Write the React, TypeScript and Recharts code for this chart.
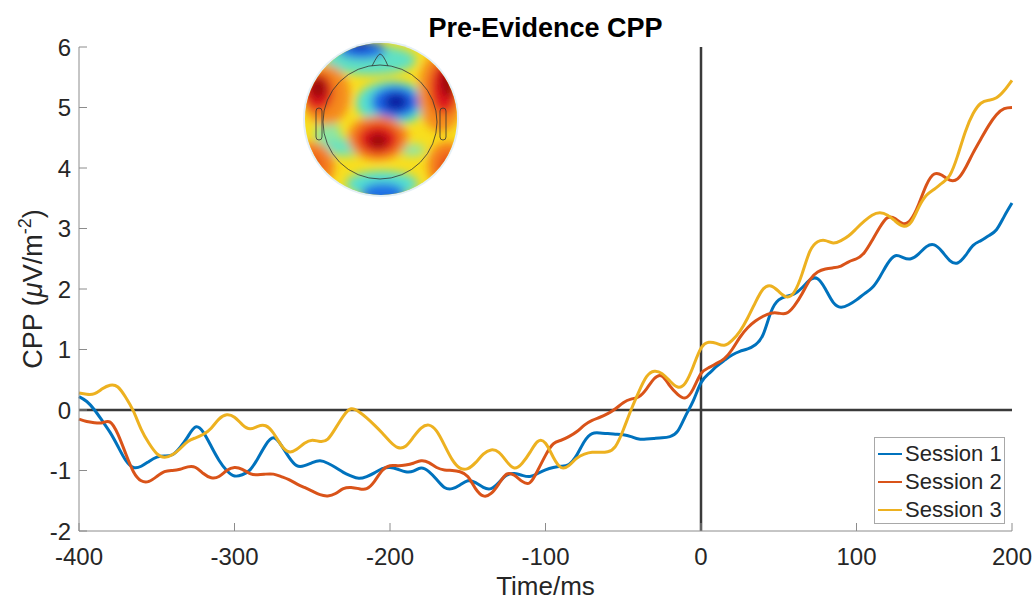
import React from "react";
import {
  LineChart,
  Line,
  XAxis,
  YAxis,
  ReferenceLine,
  Legend,
  Label,
} from "recharts";

// time axis in ms, 5 ms steps
const TIME = Array.from({ length: 121 }, (_, i) => -400 + i * 5);

const SESSION_1 = [
  0.22, 0.14, 0.0, -0.18, -0.37, -0.6, -0.83, -0.95, -0.93, -0.85,
  -0.78, -0.76, -0.74, -0.62, -0.44, -0.28, -0.37, -0.6, -0.83, -1.0,
  -1.09, -1.07, -0.99, -0.8, -0.58, -0.46, -0.58, -0.78, -0.92, -0.92,
  -0.87, -0.84, -0.88, -0.95, -1.03, -1.09, -1.13, -1.1, -1.04, -0.97,
  -0.95, -0.98, -1.02, -1.01, -0.96, -1.02, -1.15, -1.28, -1.3, -1.24,
  -1.17, -1.2, -1.28, -1.3, -1.2, -1.08, -1.05, -1.08, -1.1, -1.05,
  -0.99, -0.95, -0.93, -0.9, -0.75, -0.52, -0.39, -0.38, -0.39, -0.4,
  -0.41, -0.44, -0.48, -0.48, -0.47, -0.46, -0.44, -0.35, -0.1, 0.15,
  0.45, 0.6, 0.72, 0.82, 0.91, 0.97, 1.01, 1.08, 1.25, 1.62,
  1.82, 1.88, 1.92, 2.02, 2.15, 2.17, 2.0, 1.78, 1.7, 1.74,
  1.82, 1.92, 2.02, 2.2, 2.42, 2.55, 2.52, 2.5, 2.58, 2.7,
  2.73, 2.62, 2.47, 2.43, 2.55, 2.72, 2.8, 2.88, 2.98, 3.2,
  3.42,
];

const SESSION_2 = [
  -0.15, -0.19, -0.21, -0.21, -0.2, -0.4, -0.72, -1.02, -1.17, -1.18,
  -1.1, -1.02, -1.0, -0.98, -0.94, -0.95, -1.05, -1.12, -1.1, -1.0,
  -0.95, -0.98, -1.05, -1.07, -1.06, -1.06, -1.1, -1.15, -1.22, -1.28,
  -1.34, -1.4, -1.42, -1.38, -1.3, -1.28, -1.3, -1.3, -1.18, -1.0,
  -0.92, -0.92, -0.91, -0.88, -0.84, -0.87, -0.95, -0.99, -1.0, -1.02,
  -1.1, -1.3, -1.42, -1.38, -1.22, -1.06, -1.08, -1.18, -1.2, -1.0,
  -0.75, -0.56, -0.5, -0.44, -0.36, -0.25, -0.17, -0.12, -0.06, 0.02,
  0.12, 0.18, 0.22, 0.35, 0.52, 0.56, 0.4, 0.26, 0.2, 0.35,
  0.6, 0.7, 0.77, 0.85, 1.0, 1.2, 1.36, 1.47, 1.55, 1.6,
  1.6, 1.6, 1.72, 1.92, 2.15, 2.28, 2.33, 2.35, 2.38, 2.45,
  2.5, 2.6, 2.8, 3.02, 3.18, 3.16, 3.08, 3.15, 3.4, 3.72,
  3.9, 3.88, 3.8, 3.82, 4.0, 4.25, 4.48, 4.7, 4.88, 4.98,
  5.0,
];

const SESSION_3 = [
  0.28, 0.26, 0.27, 0.35, 0.41, 0.38, 0.21, -0.02, -0.32, -0.55,
  -0.72, -0.78, -0.74, -0.64, -0.52, -0.46, -0.4, -0.3, -0.15, -0.08,
  -0.12, -0.24, -0.31, -0.27, -0.26, -0.38, -0.58, -0.69, -0.65, -0.55,
  -0.5, -0.52, -0.48, -0.3, -0.1, 0.02, -0.03, -0.13, -0.25, -0.38,
  -0.52, -0.62, -0.6, -0.45, -0.3, -0.25, -0.35, -0.58, -0.82, -0.96,
  -0.97, -0.87, -0.73, -0.66, -0.7, -0.85, -0.96, -0.88, -0.7, -0.52,
  -0.55, -0.78, -0.95, -0.92, -0.8, -0.73, -0.7, -0.7, -0.69, -0.6,
  -0.33, 0.0, 0.3, 0.55, 0.64, 0.6, 0.48, 0.38, 0.45, 0.72,
  1.02, 1.12, 1.1, 1.07, 1.15, 1.3, 1.52, 1.78, 2.0, 2.05,
  1.96, 1.87, 1.95, 2.25, 2.62, 2.78, 2.8, 2.76, 2.8, 2.88,
  3.0, 3.12, 3.22, 3.26, 3.22, 3.12, 3.04, 3.1, 3.35, 3.55,
  3.65, 3.75, 3.88, 4.2, 4.6, 4.9, 5.07, 5.12, 5.16, 5.28,
  5.45,
];

const X_TICKS = [-400, -300, -200, -100, 0, 100, 200];
const Y_TICKS = [-2, -1, 0, 1, 2, 3, 4, 5, 6];

const SERIES = [
  { key: "s1", name: "Session 1", color: "#0072BD", values: SESSION_1 },
  { key: "s2", name: "Session 2", color: "#D95319", values: SESSION_2 },
  { key: "s3", name: "Session 3", color: "#EDB120", values: SESSION_3 },
];

const chartData = TIME.map((t, i) => ({
  t,
  s1: SESSION_1[i],
  s2: SESSION_2[i],
  s3: SESSION_3[i],
}));

const FONT = "'Liberation Sans', Arial, Helvetica, sans-serif";
const AXIS_GRAY = "#8c8c8c";
const TEXT_GRAY = "#262626";

// ticks drawn inward like matlab
const XTick = (props: any) => {
  const { x, y, payload } = props;
  return (
    <g>
      <line x1={x} x2={x} y1={y} y2={y - 8} stroke={AXIS_GRAY} strokeWidth={1} />
      <text x={x} y={y + 34} textAnchor="middle" fontSize={24} fill={TEXT_GRAY} fontFamily={FONT}>
        {payload.value}
      </text>
    </g>
  );
};

const YTick = (props: any) => {
  const { x, y, payload } = props;
  return (
    <g>
      <line x1={x} x2={x + 8} y1={y} y2={y} stroke={AXIS_GRAY} strokeWidth={1} />
      <text x={x - 8} y={y + 8.5} textAnchor="end" fontSize={24} fill={TEXT_GRAY} fontFamily={FONT}>
        {payload.value}
      </text>
    </g>
  );
};

const renderYLabel = (props: any) => {
  const vb = props.viewBox || { x: 0, y: 47, width: 79, height: 484 };
  const cx = vb.x + 42;
  const cy = vb.y + vb.height / 2;
  return (
    <text
      x={cx}
      y={cy}
      transform={`rotate(-90, ${cx}, ${cy})`}
      textAnchor="middle"
      fontSize={27}
      fill={TEXT_GRAY}
      fontFamily={FONT}
    >
      CPP (<tspan fontStyle="italic">μ</tspan>V/m
      <tspan dy={-11} fontSize={18}>-2</tspan>
      <tspan dy={11}>)</tspan>
    </text>
  );
};

const renderLegend = (props: any) => {
  const { payload } = props;
  return (
    <div
      style={{
        border: "1px solid #a8a8a8",
        background: "#fff",
        width: 131,
        height: 87,
        paddingTop: 2,
        boxSizing: "border-box",
        fontFamily: FONT,
      }}
    >
      {(payload || []).map((entry: any) => (
        <div key={entry.value} style={{ display: "flex", alignItems: "center", height: 28 }}>
          <svg width={27} height={4} style={{ marginLeft: 3 }}>
            <line x1={0} x2={24} y1={2} y2={2} stroke={entry.color} strokeWidth={2} />
          </svg>
          <span style={{ fontSize: 22, color: TEXT_GRAY, lineHeight: "28px" }}>{entry.value}</span>
        </div>
      ))}
    </div>
  );
};

// scalp map inset (decorative, approximated with blurred blobs)
const BLOBS: [number, number, number, number, string][] = [
  [370, 60, 46, 15, "#5ee0c4"],
  [328, 136, 13, 18, "#8fe6a0"],
  [392, 103, 36, 22, "#55dfd0"],
  [345, 147, 24, 9, "#6fe2bc"],
  [382, 184, 36, 13, "#55dfd0"],
  [412, 150, 13, 6, "#8fe6a8"],
  [362, 50, 24, 9, "#1e6ee6"],
  [395, 102, 24, 16, "#1e64e6"],
  [383, 193, 22, 10, "#1e6ee6"],
  [396, 102, 12, 9, "#0a1ea0"],
  [360, 46, 11, 5, "#1030c0"],
  [326, 95, 24, 30, "#f58a1e"],
  [441, 92, 23, 40, "#f58a1e"],
  [378, 138, 30, 22, "#f57a1e"],
  [312, 166, 22, 24, "#f57a1e"],
  [448, 166, 20, 24, "#f57a1e"],
  [318, 92, 15, 19, "#e0141e"],
  [444, 88, 14, 26, "#e0141e"],
  [378, 139, 20, 15, "#e0141e"],
  [309, 168, 11, 13, "#e0301e"],
  [450, 168, 10, 13, "#e0301e"],
  [318, 88, 9, 11, "#9a0a0a"],
  [448, 82, 8, 16, "#9a0a0a"],
  [378, 141, 10, 8, "#9a0a0a"],
];

const TopoMap = () => (
  <g>
    <defs>
      <clipPath id="scalpClip">
        <circle cx={381} cy={119} r={76} />
      </clipPath>
      <filter id="blobBlur" x="-50%" y="-50%" width="200%" height="200%">
        <feGaussianBlur stdDeviation={5} />
      </filter>
    </defs>
    <circle cx={381} cy={119} r={78} fill="#e4eff7" />
    <g clipPath="url(#scalpClip)">
      <rect x={300} y={40} width={162} height={160} fill="#f8de1e" />
      <g filter="url(#blobBlur)">
        {BLOBS.map(([cx, cy, rx, ry, c], i) => (
          <ellipse key={i} cx={cx} cy={cy} rx={rx} ry={ry} fill={c} />
        ))}
      </g>
    </g>
    <circle cx={380} cy={122} r={57} fill="none" stroke="#333" strokeWidth={0.8} />
    <path d="M 372 66 Q 378 54 380 54 Q 383 54 388 66" fill="none" stroke="#333" strokeWidth={0.8} />
    <rect x={316} y={108} width={6} height={32} rx={3} fill="none" stroke="#333" strokeWidth={0.8} />
    <rect x={440} y={108} width={6} height={32} rx={3} fill="none" stroke="#333" strokeWidth={0.8} />
  </g>
);

export default function App() {
  return (
    <div style={{ position: "relative", width: 1035, height: 603, background: "#fff" }}>
      <style>{"body{margin:0;}"}</style>
      <LineChart
        width={1035}
        height={603}
        data={chartData}
        margin={{ top: 47, right: 23, left: 0, bottom: 0 }}
      >
        <XAxis
          dataKey="t"
          type="number"
          domain={[-400, 200]}
          ticks={X_TICKS}
          height={72}
          tickSize={0}
          tickMargin={0}
          tickLine={false}
          axisLine={{ stroke: AXIS_GRAY, strokeWidth: 1 }}
          tick={<XTick />}
          interval={0}
        >
          <Label
            value="Time/ms"
            position="insideBottom"
            offset={8}
            style={{ fontSize: 26, fill: TEXT_GRAY, fontFamily: FONT }}
          />
        </XAxis>
        <YAxis
          type="number"
          domain={[-2, 6]}
          ticks={Y_TICKS}
          width={79}
          tickSize={0}
          tickMargin={0}
          tickLine={false}
          axisLine={{ stroke: AXIS_GRAY, strokeWidth: 1 }}
          tick={<YTick />}
          interval={0}
        >
          <Label content={renderYLabel} />
        </YAxis>
        <ReferenceLine y={0} stroke="#3a3a3a" strokeWidth={2.5} />
        <ReferenceLine x={0} stroke="#3a3a3a" strokeWidth={2.5} />
        {SERIES.map((s) => (
          <Line
            key={s.key}
            type="natural"
            dataKey={s.key}
            name={s.name}
            stroke={s.color}
            strokeWidth={3}
            dot={false}
            activeDot={false}
            isAnimationActive={false}
          />
        ))}
        <Legend
          layout="vertical"
          align="center"
          verticalAlign="middle"
          content={renderLegend}
          wrapperStyle={{ left: 874, top: 437, width: 131, height: 87 }}
        />
      </LineChart>
      <svg
        width={1035}
        height={603}
        style={{ position: "absolute", left: 0, top: 0, pointerEvents: "none" }}
      >
        <text x={545.5} y={37} textAnchor="middle" fontSize={27} fontWeight="bold" fill="#000" fontFamily={FONT}>
          Pre-Evidence CPP
        </text>
        <TopoMap />
      </svg>
    </div>
  );
}
